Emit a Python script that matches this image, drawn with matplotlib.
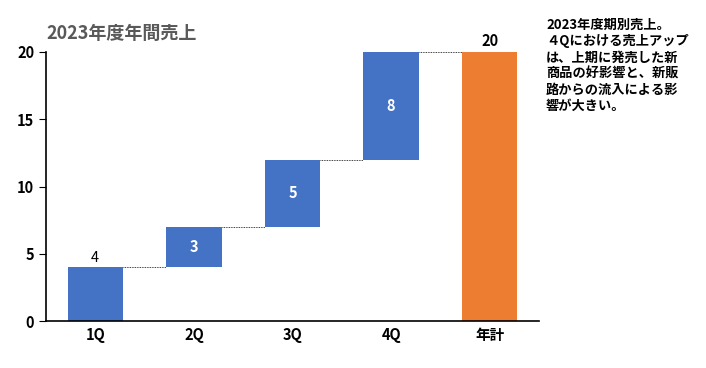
import numpy as np
import matplotlib
matplotlib.use("Agg")
import matplotlib.pyplot as plt

plt.rcParams["font.family"] = ["Noto Sans CJK JP", "DejaVu Sans"]

# data
categories = ["1Q", "2Q", "3Q", "4Q", "年計"]
quarter_sales = [4, 3, 5, 8]
total_sales = sum(quarter_sales)
title = "2023年度年間売上"
note = ("2023年度期別売上。\n４Qにおける売上アップ\nは、上期に発売した新\n"
        "商品の好影響と、新販\n路からの流入による影\n響が大きい。")

blue = "#4472C4"
orange = "#ED7D31"

fig = plt.figure(figsize=(7.06, 3.68), dpi=100)
ax = fig.add_axes([46 / 706, 47 / 368, 493 / 706, 269 / 368])

x = np.arange(len(categories))
width = 0.56

# floating quarter bars
bottoms = np.concatenate([[0], np.cumsum(quarter_sales)[:-1]])
ax.bar(x[:-1], quarter_sales, width, bottom=bottoms, color=blue, zorder=2)
ax.bar(x[-1], total_sales, width, color=orange, zorder=2)

# dotted connectors between bars
tops = np.cumsum(quarter_sales)
for i, t in enumerate(tops):
    ax.plot([x[i] + width / 2, x[i + 1] - width / 2], [t, t],
            color="black", lw=0.6, ls=(0, (1, 1)), zorder=1)

# value labels
for i, (v, b) in enumerate(zip(quarter_sales, bottoms)):
    if i == 0:
        ax.text(x[i], b + v + 0.2, str(v), ha="center", va="bottom",
                fontsize=10.5, color="black")
    else:
        ax.text(x[i], b + v / 2, str(v), ha="center", va="center",
                fontsize=10.5, color="white", fontweight="bold")
ax.text(x[-1], total_sales + 0.2, str(total_sales), ha="center", va="bottom",
        fontsize=10.5, color="black", fontweight="bold")

ax.set_xlim(-0.5, len(categories) - 0.5)
ax.set_ylim(0, 20)
ax.set_yticks([0, 5, 10, 15, 20])
ax.set_xticks(x)
ax.set_xticklabels(categories, fontweight="bold", fontsize=10.5)
ax.tick_params(axis="x", length=0, pad=4)
ax.tick_params(axis="y", length=5, labelsize=10.5)
for lbl in ax.get_yticklabels():
    lbl.set_fontweight("bold")

ax.spines["top"].set_visible(False)
ax.spines["right"].set_visible(False)
ax.spines["left"].set_linewidth(1.2)
ax.spines["bottom"].set_linewidth(1.2)

fig.text(46 / 706, 1 - 33 / 368, title, fontsize=13, fontweight="bold",
         color="#595959", va="center", ha="left")
fig.text(546 / 706, 1 - 18 / 368, note, fontsize=9.5, fontweight="bold",
         color="black", va="top", ha="left", linespacing=1.2)

fig.savefig("out.png", dpi=100)
